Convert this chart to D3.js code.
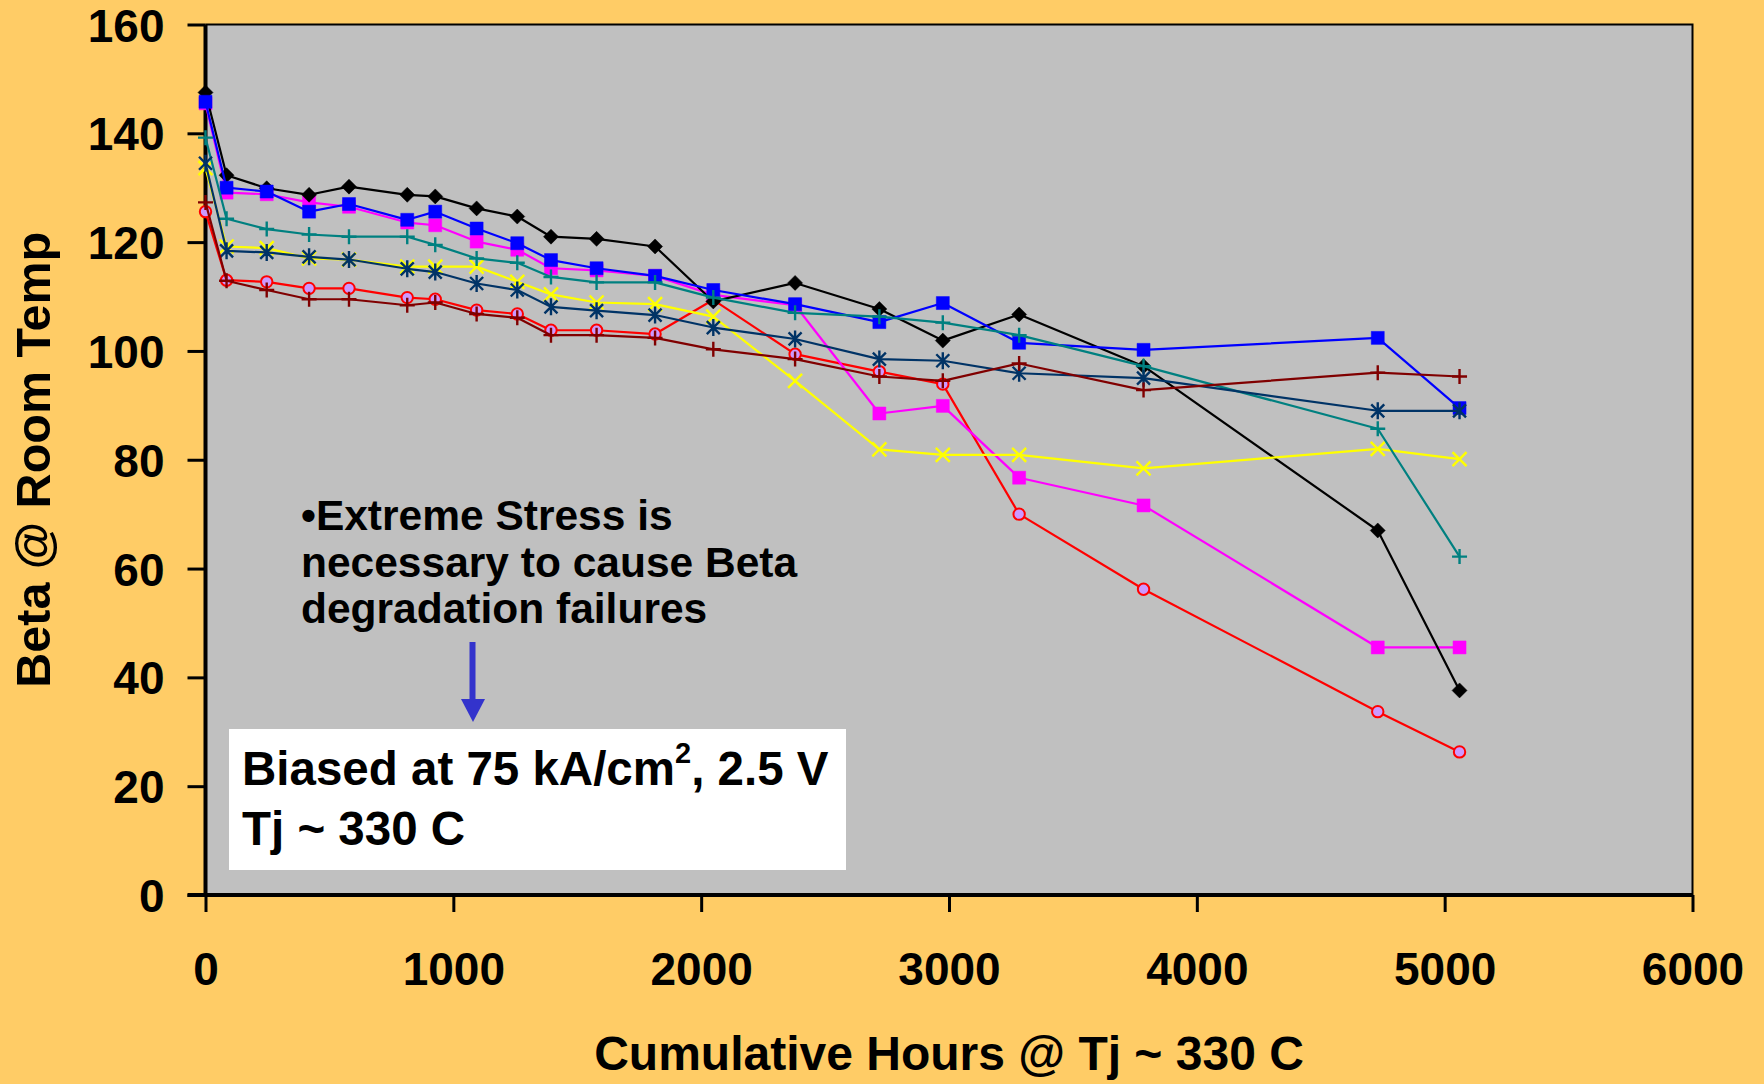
<!DOCTYPE html>
<html>
<head>
<meta charset="utf-8">
<script src="https://cdn.jsdelivr.net/npm/d3@7"></script>
<style>
  html, body { margin: 0; padding: 0; background: #FFCC66; }
  svg { display: block; }
  text { font-family: "Liberation Sans", Arial, Helvetica, sans-serif; font-weight: bold; fill: #000; }
</style>
</head>
<body>
<svg id="chart" width="1764" height="1084"></svg>
<script>
// ---------------- data ----------------
const hours = [0, 85, 247, 418, 579, 814, 927, 1094, 1258, 1394, 1578, 1814, 2049, 2379, 2719, 2975, 3283, 3785, 4730, 5060];

const seriesBlack   = [147.5, 132.3, 129.9, 128.7, 130.2, 128.7, 128.4, 126.2, 124.7, 121.0, 120.6, 119.2, 109.1, 112.5, 107.7, 101.9, 106.7, 97.2, 67.0, 37.6];
const seriesBlue    = [145.8, 130.0, 129.3, 125.6, 127.0, 124.1, 125.6, 122.5, 119.8, 116.7, 115.2, 113.8, 111.2, 108.6, 105.3, 108.8, 101.5, 100.2, 102.4, 89.5];
const seriesMagenta = [145.5, 129.1, 128.8, 127.3, 126.5, 123.6, 123.1, 120.1, 118.6, 115.2, 114.8, 113.8, 110.3, 108.4, 88.5, 89.9, 76.7, 71.6, 45.5, 45.5];
const seriesTeal    = [139.2, 124.3, 122.4, 121.4, 121.0, 121.0, 119.5, 117.0, 116.2, 113.6, 112.6, 112.6, 109.8, 107.0, 106.3, 105.2, 102.9, 97.2, 85.7, 62.2];
const seriesYellow  = [133.6, 119.2, 118.9, 117.0, 116.8, 115.5, 115.5, 115.5, 112.7, 110.4, 108.9, 108.6, 106.3, 94.5, 81.9, 80.9, 80.9, 78.4, 82.0, 80.1];
const seriesNavy    = [134.5, 118.4, 118.1, 117.3, 116.8, 115.1, 114.5, 112.4, 111.2, 108.1, 107.4, 106.6, 104.3, 102.2, 98.5, 98.2, 95.9, 95.0, 89.0, 89.0];
const seriesDarkRed = [127.3, 112.9, 111.2, 109.5, 109.5, 108.4, 108.9, 106.8, 106.1, 102.9, 102.9, 102.4, 100.3, 98.5, 95.3, 94.5, 97.7, 92.8, 96.0, 95.3];
const seriesRed     = [125.6, 113.0, 112.7, 111.5, 111.5, 109.8, 109.5, 107.5, 106.8, 103.8, 103.8, 103.1, 109.4, 99.4, 96.2, 93.9, 70.0, 56.2, 33.7, 26.3];

const xTicks = [0, 1000, 2000, 3000, 4000, 5000, 6000];
const yTicks = [0, 20, 40, 60, 80, 100, 120, 140, 160];

const xTitle = "Cumulative Hours @ Tj ~ 330 C";
const yTitle = "Beta @ Room Temp";
const noteLines = ["\u2022Extreme Stress is", "necessary to cause Beta", "degradation failures"];

// ---------------- layout ----------------
const svg = d3.select("#chart");
const L = 205.5, R = 1692.5, T = 24.5, B = 895;

svg.append("rect").attr("x", 0).attr("y", 0).attr("width", 1764).attr("height", 1084).attr("fill", "#FFCC66");

const x = d3.scaleLinear().domain([0, 6000]).range([L, R]);
const y = d3.scaleLinear().domain([0, 160]).range([B, T]);

// plot area
svg.append("rect").attr("x", L).attr("y", T).attr("width", R - L).attr("height", B - T)
  .attr("fill", "#C0C0C0");
// thin top & right border
svg.append("path").attr("d", `M${L},${T}H${R}V${B}`).attr("fill", "none").attr("stroke", "#000").attr("stroke-width", 2);

// axes
const yAxis = d3.axisLeft(y).tickValues(yTicks).tickSize(18).tickPadding(25).tickFormat(d3.format("d"));
const xAxis = d3.axisBottom(x).tickValues(xTicks).tickSize(17).tickPadding(0).tickFormat(d3.format("d"));

const gy = svg.append("g").attr("transform", `translate(${L},0)`).call(yAxis);
gy.select(".domain").attr("stroke", "#000").attr("stroke-width", 4).attr("d", `M0,${T}V${B + 2}`);
gy.selectAll(".tick line").attr("stroke", "#000").attr("stroke-width", 3);
gy.selectAll(".tick text").attr("font-size", 46).attr("font-family", null).attr("dy", "0.36em").attr("x", -41);

const gx = svg.append("g").attr("transform", `translate(0,${B})`).call(xAxis);
gx.select(".domain").attr("stroke", "#000").attr("stroke-width", 4).attr("d", `M${L - 18},0H${R}`);
gx.selectAll(".tick line").attr("stroke", "#000").attr("stroke-width", 3);
gx.selectAll(".tick text").attr("font-size", 46).attr("font-family", null).attr("dy", 0).attr("y", 90);

// titles
svg.append("text").attr("x", (L + R) / 2).attr("y", 1070).attr("text-anchor", "middle")
  .attr("font-size", 48).text(xTitle);
svg.append("text").attr("transform", `translate(50,${(T + B) / 2 + 0}) rotate(-90)`).attr("text-anchor", "middle")
  .attr("font-size", 48.5).text(yTitle);

// ---------------- markers ----------------
const mk = {
  diamond: "M0,-7.5L7.5,0L0,7.5L-7.5,0Z",
  square: "M-6.5,-6.5H6.5V6.5H-6.5Z",
  plus: "M-7.5,0H7.5M0,-7.5V7.5",
  cross: "M-7,-7L7,7M-7,7L7,-7",
  star: "M-6.5,-6.5L6.5,6.5M-6.5,6.5L6.5,-6.5M0,-8.5V8.5",
  circle: "M5.7,0A5.7,5.7 0 1 1 -5.7,0A5.7,5.7 0 1 1 5.7,0Z"
};

const series = [
  { values: seriesRed,     color: "#FF0000", marker: "circle",  fill: "#CC99FF" },
  { values: seriesMagenta, color: "#FF00FF", marker: "square",  fill: "#FF00FF" },
  { values: seriesBlack,   color: "#000000", marker: "diamond", fill: "#000000" },
  { values: seriesBlue,    color: "#0000FF", marker: "square",  fill: "#0000FF" },
  { values: seriesYellow,  color: "#FFFF00", marker: "cross",   fill: "none" },
  { values: seriesTeal,    color: "#008080", marker: "plus",    fill: "none" },
  { values: seriesNavy,    color: "#003366", marker: "star",    fill: "none" },
  { values: seriesDarkRed, color: "#800000", marker: "plus",    fill: "none" }
];

const line = d3.line().x((d, i) => x(hours[i])).y(d => y(d));

series.forEach(s => {
  const g = svg.append("g");
  g.append("path").attr("d", line(s.values)).attr("fill", "none")
    .attr("stroke", s.color).attr("stroke-width", 2.2).attr("stroke-linejoin", "round");
  g.selectAll("path.m").data(s.values).join("path").attr("class", "m")
    .attr("transform", (d, i) => `translate(${x(hours[i])},${y(d)})`)
    .attr("d", mk[s.marker])
    .attr("fill", s.fill)
    .attr("stroke", s.color)
    .attr("stroke-width", s.marker === "circle" ? 2 : (s.fill === "none" ? 2.4 : 0.5));
});

// ---------------- annotations ----------------
const note = svg.append("text").attr("font-size", 42.5);
noteLines.forEach((t, i) => {
  note.append("tspan").attr("x", 301).attr("y", 530 + i * 46.5).text(t);
});

// arrow
svg.append("line").attr("x1", 472.5).attr("x2", 472.5).attr("y1", 642).attr("y2", 702)
  .attr("stroke", "#3333CC").attr("stroke-width", 6);
svg.append("path").attr("d", "M461,699L485,699L473,722Z").attr("fill", "#3333CC");

// white box
svg.append("rect").attr("x", 229).attr("y", 729).attr("width", 617).attr("height", 141).attr("fill", "#FFFFFF");
const b1 = svg.append("text").attr("x", 242).attr("y", 785).attr("font-size", 47.5);
b1.append("tspan").text("Biased at 75 kA/cm");
b1.append("tspan").attr("font-size", 29).attr("dy", -22).text("2");
b1.append("tspan").attr("dy", 22).text(", 2.5 V");
svg.append("text").attr("x", 242).attr("y", 845).attr("font-size", 47.5).text("Tj ~ 330 C");
</script>
</body>
</html>
